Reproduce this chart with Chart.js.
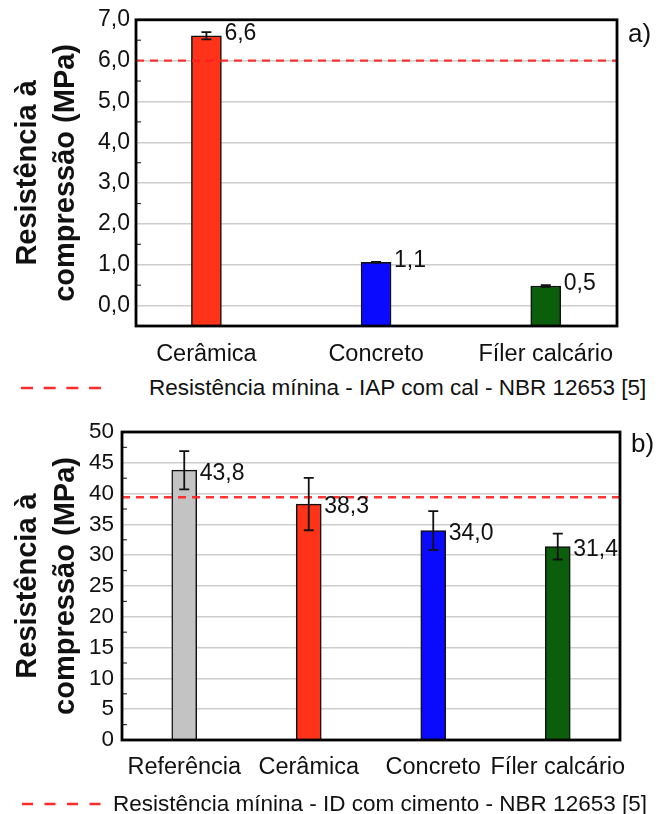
<!DOCTYPE html>
<html><head><meta charset="utf-8">
<script src="https://cdn.jsdelivr.net/npm/chart.js@4.4.1/dist/chart.umd.min.js"></script>
<style>
html,body{margin:0;padding:0;background:#fff}
body{width:667px;height:814px;position:relative;overflow:hidden}
#wa{position:absolute;left:0;top:0;width:667px;height:372px}
#wb{position:absolute;left:0;top:400px;width:667px;height:392px}
.leg{position:absolute;left:0;width:667px;height:30px}
.leg svg{position:absolute;left:0;top:0}
.leg span{position:absolute;top:0;font-family:'Liberation Sans',Arial,sans-serif;font-size:22.5px;color:#111;white-space:nowrap;line-height:30px}
</style>
</head><body>
<div id="wa"><canvas id="ca"></canvas></div>
<div class="leg" id="la" style="top:373px"><svg width="110" height="30"><line x1="21" y1="15" x2="101" y2="15" stroke="#ff2a2a" stroke-width="2.5" stroke-dasharray="12,10.7"/></svg><span style="left:149px"></span></div>
<div id="wb"><canvas id="cb"></canvas></div>
<div class="leg" id="lb" style="top:789px"><svg width="110" height="30"><line x1="22" y1="15" x2="101" y2="15" stroke="#ff2a2a" stroke-width="2.5" stroke-dasharray="11,11.5"/></svg><span style="left:113px"></span></div>
<script>
// ---- data ----
const catsA = ['Cerâmica', 'Concreto', 'Fíler calcário'];
const valsA = [6.61, 1.06, 0.48];
const errA = [0.09, 0.01, 0.02];
const yTicksA = [0, 1, 2, 3, 4, 5, 6, 7];
const limitA = 6.0;
const legendA = 'Resistência mínina - IAP com cal - NBR 12653 [5]';

const catsB = ['Referência', 'Cerâmica', 'Concreto', 'Fíler calcário'];
const valsB = [43.8, 38.3, 34.0, 31.4];
const errB = [3.1, 4.25, 3.15, 2.1];
const yTicksB = [0, 5, 10, 15, 20, 25, 30, 35, 40, 45, 50];
const limitB = 39.4;
const legendB = 'Resistência mínina - ID com cimento - NBR 12653 [5]';

const yTitle = ['Resistência à', 'compressão (MPa)'];

// ---- styles ----
const colorsA = ['#ff3319', '#0a0aff', '#0b5e0b'];
const colorsB = ['#c3c3c3', '#ff3319', '#0a0aff', '#0b5e0b'];
const SANS = "'Liberation Sans',Arial,sans-serif";
const comma = (v, d) => v.toFixed(d).replace('.', ',');

document.querySelector('#la span').textContent = legendA;
document.querySelector('#lb span').textContent = legendB;

function overlay(o) {
  return {
    id: 'ov' + o.tag,
    afterDatasetsDraw(chart) {
      const ctx = chart.ctx, ys = chart.scales.y, ca = chart.chartArea;
      const meta = chart.getDatasetMeta(0);
      // threshold line
      ctx.save();
      ctx.strokeStyle = 'rgba(255,30,30,0.9)';
      ctx.lineWidth = o.limW;
      ctx.setLineDash([8, 6]);
      const ly = ys.getPixelForValue(o.limit);
      ctx.beginPath(); ctx.moveTo(ca.left, ly); ctx.lineTo(ca.right, ly); ctx.stroke();
      ctx.restore();
      // error bars + value labels
      ctx.save();
      meta.data.forEach((bar, i) => {
        const v = o.vals[i], e = o.errs[i];
        const yt = ys.getPixelForValue(v + e), yb = ys.getPixelForValue(v - e);
        ctx.strokeStyle = '#111'; ctx.lineWidth = 1.8;
        ctx.beginPath();
        ctx.moveTo(bar.x, yt); ctx.lineTo(bar.x, yb);
        ctx.moveTo(bar.x - 5, yt); ctx.lineTo(bar.x + 5, yt);
        ctx.moveTo(bar.x - 5, yb); ctx.lineTo(bar.x + 5, yb);
        ctx.stroke();
        ctx.fillStyle = '#111';
        ctx.font = o.valFont + 'px ' + SANS;
        ctx.textAlign = 'left'; ctx.textBaseline = 'middle';
        ctx.fillText(comma(v, 1), bar.x + bar.width / 2 + 3, bar.y + o.labOff);
      });
      ctx.restore();
    },
    afterDraw(chart) {
      const ctx = chart.ctx, ys = chart.scales.y, ca = chart.chartArea;
      ctx.save();
      // minor ticks
      ctx.strokeStyle = '#333'; ctx.lineWidth = 1.2;
      for (let k = 0; k < o.ticks.length - 1; k++) {
        const m = (o.ticks[k] + o.ticks[k + 1]) / 2;
        const py = ys.getPixelForValue(m);
        ctx.beginPath(); ctx.moveTo(ca.left, py); ctx.lineTo(ca.left + 5, py); ctx.stroke();
      }
      // frame
      ctx.strokeStyle = '#000'; ctx.lineWidth = 2.8;
      ctx.strokeRect(ca.left, ca.top, ca.right - ca.left, ca.bottom - ca.top);
      // panel letter
      ctx.fillStyle = '#111';
      ctx.font = '26px ' + SANS;
      ctx.textAlign = 'left'; ctx.textBaseline = 'middle';
      ctx.fillText(o.letter, ca.right + 11, ca.top + o.letterDy);
      ctx.restore();
    }
  };
}

const titleOpts = {
  display: true, text: yTitle, color: '#111',
  font: { family: SANS, size: 29, weight: 'bold', lineHeight: 1.3 },
  padding: { top: 9, bottom: 0 }
};
const gridY = { color: '#cdcdcd', lineWidth: 1.5, drawTicks: false };

// ---- chart a ----
new Chart(document.getElementById('ca'), {
  type: 'bar',
  data: {
    datasets: [{
      data: valsA.map((v, i) => ({ x: i + 1, y: v })),
      backgroundColor: colorsA, borderColor: '#111', borderWidth: 1.5,
      barThickness: 30, base: -0.5
    }]
  },
  options: {
    responsive: true, maintainAspectRatio: false, animation: false,
    layout: { padding: { top: 18, right: 50, left: 0, bottom: 0 } },
    plugins: { legend: { display: false }, tooltip: { enabled: false } },
    scales: {
      x: {
        type: 'linear', min: 0.585, max: 3.42, offset: false,
        afterBuildTicks: s => { s.ticks = catsA.map((c, i) => ({ value: i + 1 })); },
        afterFit: s => { s.height = 46; },
        grid: { display: false }, border: { display: false },
        ticks: { callback: v => catsA[v - 1], padding: 6, autoSkip: false, maxRotation: 0,
          color: '#111', font: { family: SANS, size: 23.5 } }
      },
      y: {
        min: -0.5, max: 7,
        afterBuildTicks: s => { s.ticks = yTicksA.map(v => ({ value: v })); },
        afterFit: s => { s.width = 136; },
        grid: gridY, border: { display: false },
        ticks: { callback: v => comma(v, 1), padding: 6, color: '#111', font: { family: SANS, size: 23 } },
        title: titleOpts
      }
    }
  },
  plugins: [overlay({ tag: 'a', vals: valsA, errs: errA, limit: limitA, limW: 2.2, ticks: yTicksA, valFont: 23, labOff: -2, letter: 'a)', letterDy: 15 })]
});

// ---- chart b ----
new Chart(document.getElementById('cb'), {
  type: 'bar',
  data: {
    labels: catsB,
    datasets: [{
      data: valsB,
      backgroundColor: colorsB, borderColor: '#111', borderWidth: 1.5,
      barThickness: 25
    }]
  },
  options: {
    responsive: true, maintainAspectRatio: false, animation: false,
    layout: { padding: { top: 32, right: 47, left: 0, bottom: 0 } },
    plugins: { legend: { display: false }, tooltip: { enabled: false } },
    scales: {
      x: {
        afterFit: s => { s.height = 52; },
        grid: { display: false }, border: { display: false },
        ticks: { padding: 5, autoSkip: false, maxRotation: 0,
          color: '#111', font: { family: SANS, size: 23.5 } }
      },
      y: {
        min: 0, max: 50,
        afterBuildTicks: s => { s.ticks = yTicksB.map(v => ({ value: v })); },
        afterFit: s => { s.width = 122; },
        grid: gridY, border: { display: false },
        ticks: { callback: v => String(v), padding: 8, color: '#111', font: { family: SANS, size: 22.5 } },
        title: titleOpts
      }
    }
  },
  plugins: [overlay({ tag: 'b', vals: valsB, errs: errB, limit: limitB, limW: 2.6, ticks: yTicksB, valFont: 23, labOff: 3, letter: 'b)', letterDy: 13 })]
});
</script>
</body></html>
